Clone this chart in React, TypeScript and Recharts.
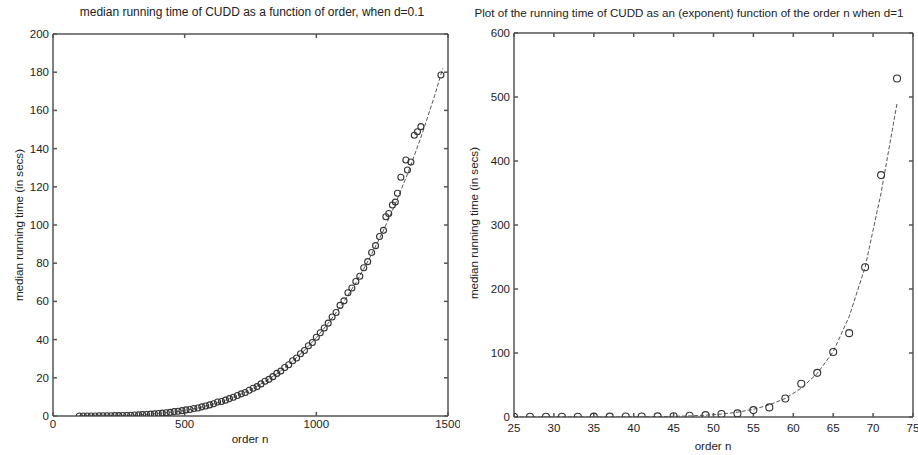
import React from 'react';
import { ScatterChart, Scatter, XAxis, YAxis } from 'recharts';

// left panel: d=0.1, order vs median time
const leftOrders = [
  100, 115, 130, 145, 160, 175, 190, 205, 220, 235, 250, 265, 280, 295, 310, 325, 340, 355, 370, 385,
  400, 415, 430, 445, 460, 475, 490, 505, 520, 535, 550, 565, 580, 595, 610, 625, 640, 655, 670, 685,
  700, 715, 730, 745, 760, 775, 790, 805, 820, 835, 850, 865, 880, 895, 910, 925, 940, 955, 970, 985,
  1000, 1015, 1030, 1045, 1060, 1075, 1090, 1105, 1120, 1135, 1150, 1165, 1180, 1195, 1210, 1225, 1240, 1255,
  1264, 1275, 1289, 1300, 1308, 1321, 1340, 1346, 1359, 1372, 1384, 1397, 1473,
];
const leftTimes = [
  0.0, 0.0, 0.0, 0.0, 0.0, 0.1, 0.1, 0.1, 0.1, 0.2, 0.2, 0.3, 0.3, 0.4, 0.5, 0.6, 0.7, 0.8, 1.0, 1.1,
  1.3, 1.5, 1.7, 1.9, 2.3, 2.5, 2.8, 3.2, 3.4, 3.9, 4.2, 4.8, 5.2, 5.8, 6.4, 7.3, 7.6, 8.3, 9.1, 9.8,
  10.7, 11.6, 12.3, 13.5, 14.5, 15.4, 16.8, 18.2, 19.2, 20.6, 22.3, 23.5, 25.4, 26.8, 28.9, 30.4, 32.6, 34.3, 36.8, 38.5,
  41.2, 43.6, 46.1, 48.6, 51.8, 54.2, 57.9, 60.3, 64.5, 67.0, 70.4, 73.2, 77.6, 80.8, 85.6, 89.2, 94.0, 97.2,
  104.3, 106.0, 110.5, 112.0, 116.6, 125.0, 134.0, 128.8, 133.0, 147.0, 148.8, 151.5, 178.5,
];
const leftFitOrders = [
  100, 150, 200, 250, 300, 350, 400, 450, 500, 550, 600, 650, 700, 750, 800,
  850, 900, 950, 1000, 1050, 1100, 1150, 1200, 1250, 1300, 1350, 1400, 1450, 1480,
];
const leftFitTimes = [
  0.0, 0.03, 0.1, 0.2, 0.4, 0.8, 1.3, 2.0, 2.9, 4.2, 5.9, 8.0, 10.6, 13.7, 17.6,
  22.1, 27.5, 33.7, 41.0, 49.4, 58.9, 69.7, 82.0, 95.7, 111.0, 128.0, 147.0, 168.0, 182.0,
];
const leftXTicks = [0, 500, 1000, 1500];
const leftYTicks = [0, 20, 40, 60, 80, 100, 120, 140, 160, 180, 200];

// right panel: d=1
const rightOrders = [25, 27, 29, 31, 33, 35, 37, 39, 41, 43, 45, 47, 49, 51, 53, 55, 57, 59, 61, 63, 65, 67, 69, 71, 73];
const rightTimes = [
  0.5, 0.5, 0.5, 0.5, 0.5, 0.6, 0.6, 0.7, 0.8, 1.0, 1.2, 2.0, 3.0, 4.6, 5.6,
  10.8, 15.0, 29.0, 52.0, 69.0, 101.5, 131.0, 234.0, 378.0, 529.0,
];
const rightFitTimes = [
  0.0, 0.0, 0.1, 0.1, 0.1, 0.1, 0.1, 0.2, 0.4, 0.6, 1.0, 1.7, 2.8, 4.6, 7.5,
  12.0, 19.0, 29.0, 45.0, 68.0, 102.0, 157.0, 234.0, 350.0, 490.0,
];
const rightXTicks = [25, 30, 35, 40, 45, 50, 55, 60, 65, 70, 75];
const rightYTicks = [0, 100, 200, 300, 400, 500, 600];

const leftPoints = leftOrders.map((x, i) => ({ x, y: leftTimes[i] }));
const leftFit = leftFitOrders.map((x, i) => ({ x, y: leftFitTimes[i] }));
const rightPoints = rightOrders.map((x, i) => ({ x, y: rightTimes[i] }));
const rightFit = rightOrders.map((x, i) => ({ x, y: rightFitTimes[i] }));

const FONT = '"Liberation Sans", Arial, sans-serif';
const AXIS = '#555';
const tickStyle = { fill: '#222', fontSize: 11.5, fontFamily: FONT };
const blank = () => '';

const openCircle = (r: number) => (props: any) => (
  <circle cx={props.cx} cy={props.cy} r={r} fill="none" stroke="#333" strokeWidth={1.1} />
);
const noDot = () => <g />;

const textStyle: React.CSSProperties = {
  position: 'absolute',
  fontFamily: FONT,
  fontSize: 11.6,
  color: '#222',
  whiteSpace: 'nowrap',
  lineHeight: '13px',
};

function Panel({ points, fit, xDomain, yDomain, xTicks, yTicks, yWidth, xHeight, top, right, r, xMargin }: any) {
  return (
    <ScatterChart
      width={right.w}
      height={455}
      margin={{ top: top - 1, right: right.m - 1, left: 0, bottom: 0 }}
      style={{ overflow: 'visible' }}
    >
      <XAxis
        type="number"
        dataKey="x"
        domain={xDomain}
        ticks={xTicks}
        allowDataOverflow
        height={xHeight}
        stroke={AXIS}
        strokeWidth={1.5}
        tickSize={-4}
        tickMargin={xMargin}
        tick={tickStyle}
        interval={0}
      />
      <XAxis
        xAxisId="top"
        orientation="top"
        type="number"
        dataKey="x"
        domain={xDomain}
        ticks={xTicks}
        allowDataOverflow
        height={1}
        stroke={AXIS}
        strokeWidth={1.5}
        tickSize={-4}
        tickMargin={0}
        tick={{ fontSize: 1, fill: 'none' }}
        tickFormatter={blank}
        interval={0}
      />
      <YAxis
        type="number"
        dataKey="y"
        domain={yDomain}
        ticks={yTicks}
        allowDataOverflow
        width={yWidth}
        stroke={AXIS}
        strokeWidth={1.5}
        tickSize={-4}
        tickMargin={8}
        tick={tickStyle}
        interval={0}
      />
      <YAxis
        yAxisId="right"
        orientation="right"
        type="number"
        dataKey="y"
        domain={yDomain}
        ticks={yTicks}
        allowDataOverflow
        width={1}
        stroke={AXIS}
        strokeWidth={1.5}
        tickSize={-4}
        tickMargin={0}
        tick={{ fontSize: 1, fill: 'none' }}
        tickFormatter={blank}
        interval={0}
      />
      {/* fitted curve sits on the top/right axes (same domains) so the box gets drawn */}
      <Scatter
        data={fit}
        xAxisId="top"
        yAxisId="right"
        line={{ stroke: '#555', strokeWidth: 1, strokeDasharray: '4 2' }}
        lineType="joint"
        shape={noDot}
        isAnimationActive={false}
      />
      <Scatter data={points} shape={openCircle(r)} isAnimationActive={false} />
    </ScatterChart>
  );
}

export default function App() {
  return (
    <div style={{ position: 'absolute', left: 0, top: 0, width: 918, height: 455, background: '#fff', overflow: 'hidden' }}>
      <div style={{ position: 'absolute', left: 0, top: 0 }}>
        <Panel
          points={leftPoints}
          fit={leftFit}
          xDomain={[0, 1500]}
          yDomain={[0, 200]}
          xTicks={leftXTicks}
          yTicks={leftYTicks}
          yWidth={53}
          xHeight={39}
          top={34}
          right={{ w: 460, m: 12 }}
          r={3}
          xMargin={8}
        />
      </div>
      <div style={{ position: 'absolute', left: 460, top: 0 }}>
        <Panel
          points={rightPoints}
          fit={rightFit}
          xDomain={[25, 75]}
          yDomain={[0, 600]}
          xTicks={rightXTicks}
          yTicks={rightYTicks}
          yWidth={54}
          xHeight={38}
          top={33}
          right={{ w: 458, m: 5 }}
          r={3.5}
          xMargin={11}
        />
      </div>

      <div style={{ ...textStyle, left: 252, top: 6, fontSize: 12, transform: 'translateX(-50%)' }}>
        median running time of CUDD as a function of order, when d=0.1
      </div>
      <div style={{ ...textStyle, left: 689, top: 6, fontSize: 11.6, transform: 'translateX(-50%)' }}>
        Plot of the running time of CUDD as an (exponent) function of the order n when d=1
      </div>
      <div style={{ ...textStyle, left: 250, top: 432, transform: 'translateX(-50%)' }}>order n</div>
      <div style={{ ...textStyle, left: 713, top: 439, transform: 'translateX(-50%)' }}>order n</div>
      <div style={{ ...textStyle, left: 18, top: 225, transform: 'translate(-50%, -50%) rotate(-90deg)' }}>
        median running time (in secs)
      </div>
      <div style={{ ...textStyle, left: 473, top: 223, transform: 'translate(-50%, -50%) rotate(-90deg)' }}>
        median running time (in secs)
      </div>
    </div>
  );
}
